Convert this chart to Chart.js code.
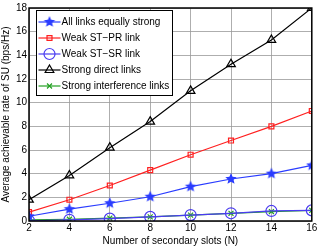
<!DOCTYPE html>
<html>
<head>
<meta charset="utf-8">
<script src="https://cdn.jsdelivr.net/npm/chart.js@4/dist/chart.umd.min.js"></script>
<style>
html,body{margin:0;padding:0;background:#fff;}
#wrap{width:319px;height:247px;}
</style>
</head>
<body>
<div id="wrap"><canvas id="myChart" width="319" height="247"></canvas></div>
<script>
var slots = [2, 4, 6, 8, 10, 12, 14, 16];
var allEqual = [0.4, 1.0, 1.5, 2.05, 2.9, 3.55, 4.0, 4.7];
var weakPR = [0.75, 1.8, 3.0, 4.3, 5.6, 6.8, 8.0, 9.3];
var weakSR = [0.02, 0.1, 0.2, 0.35, 0.5, 0.65, 0.85, 0.9];
var strongDirect = [1.8, 3.85, 6.2, 8.4, 11.0, 13.25, 15.3, 18.0];
var strongInterf = [0.1, 0.15, 0.25, 0.35, 0.5, 0.65, 0.8, 0.9];
var yTicks = [0, 2, 4, 6, 8, 10, 12, 14, 16, 18];

// filled star marker
function starImg(color, r) {
	var c = document.createElement('canvas');
	c.width = c.height = r * 2 + 2;
	var g = c.getContext('2d');
	g.beginPath();
	for (var i = 0; i < 10; i++) {
		var rr = i % 2 ? r * 0.45 : r;
		var a = -Math.PI / 2 + i * Math.PI / 5;
		var px = r + 1 + rr * Math.cos(a), py = r + 1 + rr * Math.sin(a);
		if (i == 0) g.moveTo(px, py); else g.lineTo(px, py);
	}
	g.closePath();
	g.fillStyle = color;
	g.fill();
	return c;
}
var star = starImg('#2a3cff', 6);

var series = [
	{label: 'All links equally strong', data: allEqual, color: '#2a3cff', style: star, r: 6},
	{label: 'Weak ST\u2212PR link', data: weakPR, color: '#ff2020', style: 'rect', r: 3.5},
	{label: 'Weak ST\u2212SR link', data: weakSR, color: '#4a3cf0', style: 'circle', r: 5.5},
	{label: 'Strong direct links', data: strongDirect, color: '#000000', style: 'triangle', r: 5},
	{label: 'Strong interference links', data: strongInterf, color: '#22a022', style: 'crossRot', r: 3.5}
];

var boxPlugin = {
	id: 'box',
	afterDatasetsDraw: function (chart) {
		var a = chart.chartArea, ctx = chart.ctx;
		ctx.save();
		ctx.strokeStyle = '#000';
		ctx.lineWidth = 1.5;
		ctx.strokeRect(a.left, a.top, a.right - a.left, a.bottom - a.top);
		// legend
		var lx = 36.5, ly = 10.5, w = 136, rowH = 16;
		ctx.fillStyle = '#fff';
		ctx.fillRect(lx, ly, w, 85);
		ctx.lineWidth = 1;
		ctx.strokeRect(lx, ly, w, 85);
		ctx.font = '10px "Liberation Sans", Arial, sans-serif';
		ctx.textBaseline = 'middle';
		series.forEach(function (s, i) {
			var y = 22 + rowH * i;
			ctx.strokeStyle = s.color;
			ctx.lineWidth = 1.2;
			ctx.beginPath();
			ctx.moveTo(lx + 2, y);
			ctx.lineTo(lx + 24, y);
			ctx.stroke();
			ctx.fillStyle = 'rgba(0,0,0,0)';
			Chart.helpers.drawPoint(ctx, {pointStyle: s.style, radius: s.r, borderWidth: 1.2}, lx + 13, y);
			ctx.fillStyle = '#000';
			ctx.fillText(s.label, lx + 25, y);
		});
		ctx.restore();
	}
};

var ctx = document.getElementById('myChart').getContext('2d');
var myChart = new Chart(ctx, {
	type: 'line',
	data: {
		labels: slots,
		datasets: series.map(function (s) {
			return {
				label: s.label,
				data: s.data,
				borderColor: s.color,
				backgroundColor: 'rgba(0,0,0,0)',
				borderWidth: 1.2,
				pointStyle: s.style,
				pointRadius: s.r,
				pointBorderColor: s.color,
				pointBackgroundColor: 'rgba(0,0,0,0)',
				pointBorderWidth: 1.2,
				tension: 0
			};
		})
	},
	options: {
		responsive: false,
		animation: false,
		layout: {padding: {top: 6, right: 7, left: 0, bottom: 0}},
		plugins: {legend: {display: false}, tooltip: {enabled: false}},
		scales: {
			x: {
				type: 'linear', min: 2, max: 16,
				afterBuildTicks: function (ax) { ax.ticks = slots.map(function (v) { return {value: v}; }); },
				grid: {color: '#999', lineWidth: 0.8, tickLength: 0, borderDash: [1, 2]},
				border: {display: false},
				ticks: {color: '#000', font: {family: '"Liberation Sans", Arial', size: 10}, padding: 1, maxRotation: 0},
				title: {display: true, text: 'Number of secondary slots (N)', color: '#000', font: {family: '"Liberation Sans", Arial', size: 10}, padding: 0},
				afterFit: function (ax) { ax.height = 26; }
			},
			y: {
				min: 0, max: 18,
				afterBuildTicks: function (ax) { ax.ticks = yTicks.map(function (v) { return {value: v}; }); },
				grid: {color: '#999', lineWidth: 0.8, tickLength: 0, borderDash: [1, 2]},
				border: {display: false},
				ticks: {color: '#000', font: {family: '"Liberation Sans", Arial', size: 10}, padding: 2},
				title: {display: true, text: 'Average achievable rate of SU (bps/Hz)', color: '#000', font: {family: '"Liberation Sans", Arial', size: 10}, padding: 0},
				afterFit: function (ax) { ax.width = 29; }
			}
		}
	},
	plugins: [boxPlugin]
});
</script>
</body>
</html>
